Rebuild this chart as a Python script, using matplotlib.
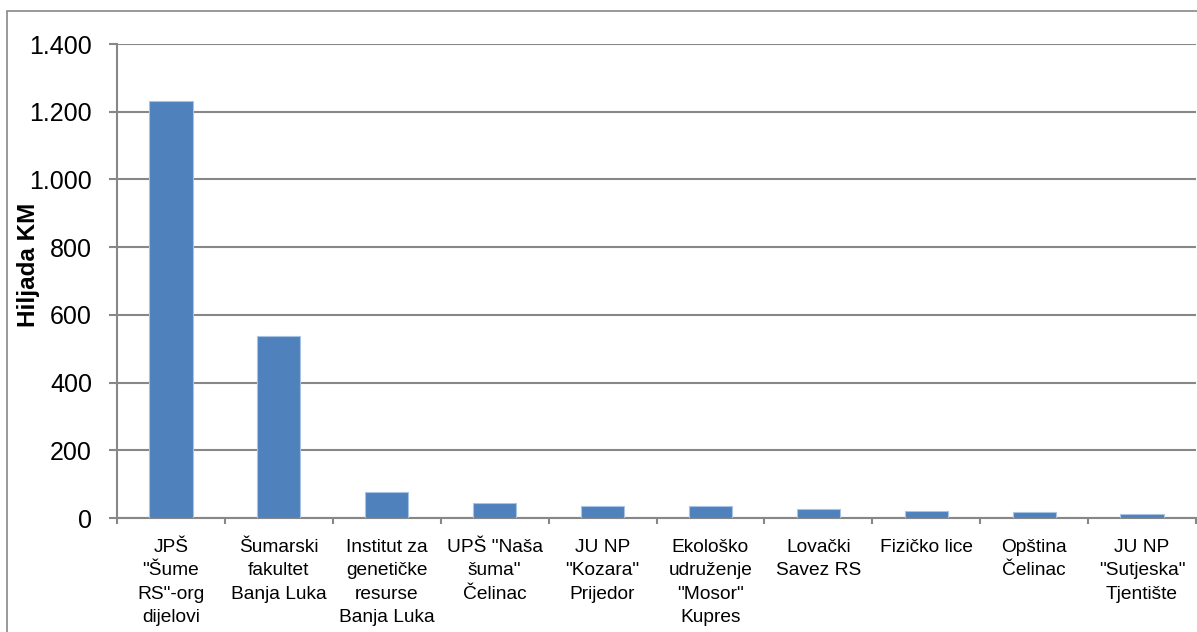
import matplotlib.pyplot as plt
from matplotlib.patches import Rectangle
from matplotlib.ticker import FuncFormatter

plt.rcParams['font.family'] = ['Liberation Sans', 'DejaVu Sans']

# kategorije i iznosi (hiljada KM)
kategorije = ['JPŠ\n"Šume\nRS"-org\ndijelovi',
              'Šumarski\nfakultet\nBanja Luka',
              'Institut za\ngenetičke\nresurse\nBanja Luka',
              'UPŠ "Naša\nšuma"\nČelinac',
              'JU NP\n"Kozara"\nPrijedor',
              'Ekološko\nudruženje\n"Mosor"\nKupres',
              'Lovački\nSavez RS',
              'Fizičko lice',
              'Opština\nČelinac',
              'JU NP\n"Sutjeska"\nTjentište']
iznosi = [1231, 537, 77, 45, 36, 34, 28, 21, 19, 11]
y_ticks = [0, 200, 400, 600, 800, 1000, 1200, 1400]

siva = '#878787'

fig = plt.figure(figsize=(11.97, 6.32), dpi=100)
# okvir oko grafikona
fig.patches.append(Rectangle((7 / 1197, -0.1), 1.2, 1.1 - 11 / 632,
                             transform=fig.transFigure, fill=False,
                             edgecolor=siva, linewidth=1.2))

ax = fig.add_axes([117 / 1197, 1 - 518 / 632, 1079 / 1197, 474 / 632])
x = range(len(iznosi))
ax.bar(x, iznosi, width=0.4, color='#4F81BD', edgecolor='#A9C3E3',
       linewidth=0.8, zorder=3)

ax.set_xlim(-0.5, len(iznosi) - 0.5)
ax.set_ylim(0, 1400)
ax.set_yticks(y_ticks)
ax.yaxis.set_major_formatter(FuncFormatter(lambda v, p: f'{int(v):,}'.replace(',', '.')))
ax.set_xticks([i + 0.5 for i in range(-1, len(iznosi))], minor=False)
ax.set_xticklabels([])
ax.set_xticks(list(x), minor=True)
ax.set_xticklabels(kategorije, minor=True, fontsize=13.8, linespacing=1.5,
                   ha='center', va='top')
ax.tick_params(axis='x', which='minor', length=0, pad=15)
ax.tick_params(axis='x', which='major', length=4.5, width=1.5, color=siva)
ax.tick_params(axis='y', length=6, width=1.5, color=siva, labelsize=18, pad=12)

ax.grid(axis='y', color=siva, linewidth=1.5, zorder=0)
for s in ['top', 'right']:
    ax.spines[s].set_visible(False)
for s in ['left', 'bottom']:
    ax.spines[s].set_color(siva)
    ax.spines[s].set_linewidth(1.5)

ax.set_ylabel('Hiljada KM', fontsize=17.5, fontweight='bold', va='center')
ax.yaxis.set_label_coords(-88 / 1079, (518 - 265) / 474)

fig.savefig('out.png', dpi=100)
